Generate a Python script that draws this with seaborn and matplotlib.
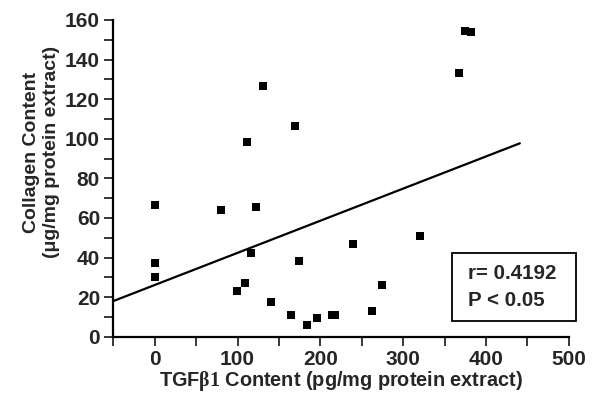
import numpy as np
import pandas as pd
import matplotlib
matplotlib.use("Agg")
import matplotlib.pyplot as plt
import seaborn as sns
from matplotlib.ticker import MultipleLocator
from matplotlib.patches import Rectangle

# Data
tgf_content = [0, 0, 0, 80, 99, 109, 111, 116, 122, 131, 140, 165, 169, 174,
               184, 196, 214, 218, 240, 263, 274, 321, 367, 375, 382]
collagen_content = [66.7, 37.4, 30.2, 64.0, 23.0, 27.3, 98.5, 42.4, 65.7, 126.5,
                    17.4, 11.0, 106.6, 38.4, 5.7, 9.4, 11.0, 11.0, 46.7, 13.0,
                    26.0, 51.0, 133.4, 154.6, 153.8]
fit_x = [-50, 441]
fit_y = [18.0, 97.7]
x_ticks = [0, 100, 200, 300, 400, 500]
y_ticks = [0, 20, 40, 60, 80, 100, 120, 140, 160]
stats_lines = ["r= 0.4192", "P < 0.05"]

sns.set_style("ticks")
plt.rcParams["font.family"] = ["Liberation Sans", "DejaVu Sans"]
plt.rcParams["font.weight"] = "bold"
plt.rcParams["mathtext.fontset"] = "custom"
plt.rcParams["mathtext.rm"] = "Liberation Serif"

fig = plt.figure(figsize=(5.96, 3.98), dpi=100)
ax = fig.add_axes([113.3 / 596, 1 - 336.7 / 398, (568.7 - 113.3) / 596, (336.7 - 20) / 398])

df = pd.DataFrame({"tgf": tgf_content, "collagen": collagen_content})
sns.scatterplot(data=df, x="tgf", y="collagen", marker="s", s=38, color="black",
                linewidth=0, ax=ax, zorder=3)
sns.lineplot(x=fit_x, y=fit_y, color="black", linewidth=1.6, ax=ax)

ax.set_xlim(-50, 500)
ax.set_ylim(0, 160)
ax.set_xticks(x_ticks)
ax.set_yticks(y_ticks)
ax.xaxis.set_minor_locator(MultipleLocator(50))
ax.yaxis.set_minor_locator(MultipleLocator(10))
for which in ("major", "minor"):
    ax.tick_params(axis="both", which=which, direction="out", length=6.5,
                   width=1.1, color="black")
ax.tick_params(axis="both", which="major", labelsize=15, pad=3)
for lab in ax.get_xticklabels() + ax.get_yticklabels():
    lab.set_fontweight("bold")

sns.despine(ax=ax)
for sp in ("left", "bottom"):
    ax.spines[sp].set_linewidth(1.6)
    ax.spines[sp].set_color("black")
ax.grid(False)

ax.set_xlabel(r"TGF$\mathrm{\beta1}$ Content (pg/mg protein extract)",
              fontsize=14.3, fontweight="bold", labelpad=0)
ax.set_ylabel("Collagen Content\n(μg/mg protein extract)", fontsize=14,
              fontweight="bold", linespacing=1.2)
ax.yaxis.set_label_coords(-0.117, 0.583)

# stats box
fig.patches.append(Rectangle((451.7 / 596, 1 - 321 / 398), (576 - 451.7) / 596,
                             (321 - 253.3) / 398, transform=fig.transFigure,
                             fill=False, edgecolor="black", linewidth=1.3))
fig.text(468.3 / 596, 1 - 273.7 / 398, stats_lines[0], fontsize=14.8,
         fontweight="bold", va="center", ha="left")
fig.text(468.3 / 596, 1 - 300 / 398, stats_lines[1], fontsize=14.8,
         fontweight="bold", va="center", ha="left")

fig.savefig("out.png", dpi=100, facecolor="white")
